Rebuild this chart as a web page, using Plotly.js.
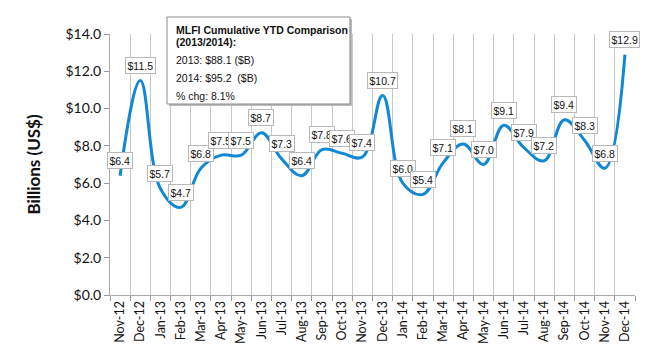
<!DOCTYPE html>
<html><head><meta charset="utf-8">
<script src="https://cdn.plot.ly/plotly-3.0.1.min.js"></script>
<style>body{margin:0;background:#fff}#c{width:650px;height:350px}</style>
</head><body><div id="c"></div>
<script>
const months = ["Nov-12","Dec-12","Jan-13","Feb-13","Mar-13","Apr-13","May-13","Jun-13","Jul-13","Aug-13","Sep-13","Oct-13","Nov-13","Dec-13","Jan-14","Feb-14","Mar-14","Apr-14","May-14","Jun-14","Jul-14","Aug-14","Sep-14","Oct-14","Nov-14","Dec-14"];
const values = [6.4,11.5,5.7,4.7,6.8,7.5,7.5,8.7,7.3,6.4,7.8,7.6,7.4,10.7,6.0,5.4,7.1,8.1,7.0,9.1,7.9,7.2,9.4,8.3,6.8,12.9];
const yTicks = [0,2,4,6,8,10,12,14];
const boxLines = ["<b>MLFI Cumulative YTD Comparison</b>","<b>(2013/2014):</b>","2013: $88.1 ($B)","2014: $95.2  ($B)","% chg: 8.1%"];
const boxLineY = [1.0153,0.9693,0.9004,0.8314,0.7625];

const annotations = months.map((m,i)=>({
  x: m, y: values[i], xref:'x', yref:'y', showarrow:false, yshift:15,
  text: '$'+values[i].toFixed(1),
  font:{family:'Liberation Sans, Arial', size:10.5, color:'#111'},
  bgcolor:'#fff', bordercolor:'#b8b8b8', borderwidth:1, borderpad:1.5
}));
boxLines.forEach((t,i)=>annotations.push({
  xref:'paper', yref:'paper', x:0.1219, y:boxLineY[i], xanchor:'left', yanchor:'middle',
  showarrow:false, align:'left', text:t,
  font:{family:'Liberation Sans, Arial', size:10.5, color:'#111'}
}));

Plotly.newPlot('c',[{
  x: months, y: values, type:'scatter', mode:'lines',
  line:{color:'#1188d4', width:3, shape:'spline', smoothing:1.1},
  hoverinfo:'skip'
}],{
  width:650, height:350,
  margin:{l:110, r:15, t:34, b:55},
  paper_bgcolor:'#fff', plot_bgcolor:'#fff',
  showlegend:false,
  shapes:[
    {type:'rect', xref:'paper', yref:'paper', x0:0.1125, x1:0.4610, y0:0.7241, y1:1.0574, fillcolor:'#bbb', line:{width:0}, layer:'above'},
    {type:'rect', xref:'paper', yref:'paper', x0:0.1086, x1:0.4571, y0:0.7318, y1:1.0651, fillcolor:'#fff', line:{color:'#8a8a8a', width:1}, layer:'above'}
  ],
  xaxis:{type:'category', tickson:'boundaries', showgrid:true, gridcolor:'#c8c8c8', gridwidth:1,
    ticks:'outside', ticklen:5, tickcolor:'#999', showline:true, linecolor:'#aaa', linewidth:1,
    tickangle:-90, tickfont:{family:'Lato, Open Sans', size:12.5, color:'#111'}, range:[-0.5,25.5]},
  yaxis:{range:[0,14], tickvals:yTicks, ticktext:yTicks.map(v=>'$'+v.toFixed(1)), showgrid:false,
    zeroline:false, showline:true, linecolor:'#aaa', linewidth:1, ticks:'outside', ticklen:5, tickcolor:'#999',
    tickfont:{family:'Lato, Open Sans', size:14, color:'#111'},
    title:{text:'<b>Billions (US$)</b>', font:{family:'Lato, Open Sans', size:17, color:'#111'}, standoff:20}},
  annotations: annotations
},{staticPlot:true});
</script></body></html>
